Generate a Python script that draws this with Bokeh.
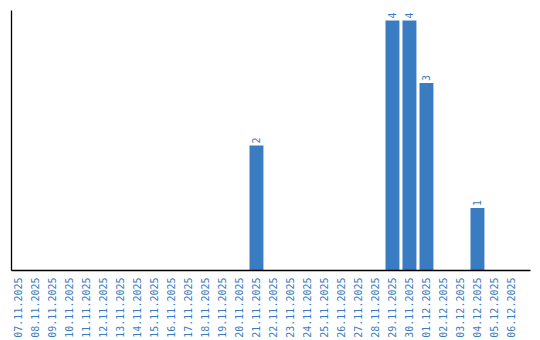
from math import pi
from bokeh.plotting import figure
from bokeh.models import ColumnDataSource, Range1d, FixedTicker
from bokeh.core.properties import value
from bokeh.embed import file_html
from bokeh.resources import INLINE

dates = ["07.11.2025", "08.11.2025", "09.11.2025", "10.11.2025", "11.11.2025",
         "12.11.2025", "13.11.2025", "14.11.2025", "15.11.2025", "16.11.2025",
         "17.11.2025", "18.11.2025", "19.11.2025", "20.11.2025", "21.11.2025",
         "22.11.2025", "23.11.2025", "24.11.2025", "25.11.2025", "26.11.2025",
         "27.11.2025", "28.11.2025", "29.11.2025", "30.11.2025", "01.12.2025",
         "02.12.2025", "03.12.2025", "04.12.2025", "05.12.2025", "06.12.2025"]
counts = [0, 0, 0, 0, 0, 0, 0, 0, 0, 0, 0, 0, 0, 0, 2,
          0, 0, 0, 0, 0, 0, 0, 4, 4, 3, 0, 0, 1, 0, 0]

BLUE = "#3a7cc1"
FONT = "DejaVu Sans Mono"

xs = list(range(len(dates)))
src = ColumnDataSource(dict(x=xs, y=counts))
nz = [i for i, c in enumerate(counts) if c > 0]
lsrc = ColumnDataSource(dict(x=[xs[i] for i in nz], y=[counts[i] for i in nz],
                             lbl=[str(counts[i]) for i in nz]))

p = figure(width=540, height=340, output_backend="svg", toolbar_location=None,
           x_range=Range1d(-0.41, 30.12), y_range=Range1d(0, 4.16),
           min_border_left=11, min_border_right=10, min_border_top=10,
           min_border_bottom=10)
p.outline_line_color = None
p.xgrid.visible = False
p.ygrid.visible = False

p.vbar(x="x", top="y", width=0.82, bottom=0, source=src, color=BLUE, line_color=None)
p.text(x="x", y="y", text="lbl", source=lsrc, angle=pi / 2, y_offset=-2,
       text_align="left", text_baseline="middle", text_color=BLUE,
       text_font=value(FONT), text_font_size="10px")

xa = p.xaxis[0]
xa.ticker = FixedTicker(ticks=xs)
xa.major_label_overrides = {i: d for i, d in enumerate(dates)}
xa.major_label_orientation = pi / 2
xa.major_tick_line_color = None
xa.minor_tick_line_color = None
xa.major_label_text_color = BLUE
xa.major_label_text_font = FONT
xa.major_label_text_font_size = "10px"
xa.major_label_standoff = 1
xa.axis_line_color = "black"
xa.axis_line_width = 1.3

ya = p.yaxis[0]
ya.major_tick_line_color = None
ya.minor_tick_line_color = None
ya.major_label_text_font_size = "0px"
ya.major_label_text_color = None
ya.axis_line_color = "black"
ya.axis_line_width = 1.3
ya.major_label_standoff = 0

open("out.html", "w").write(file_html(p, INLINE))
